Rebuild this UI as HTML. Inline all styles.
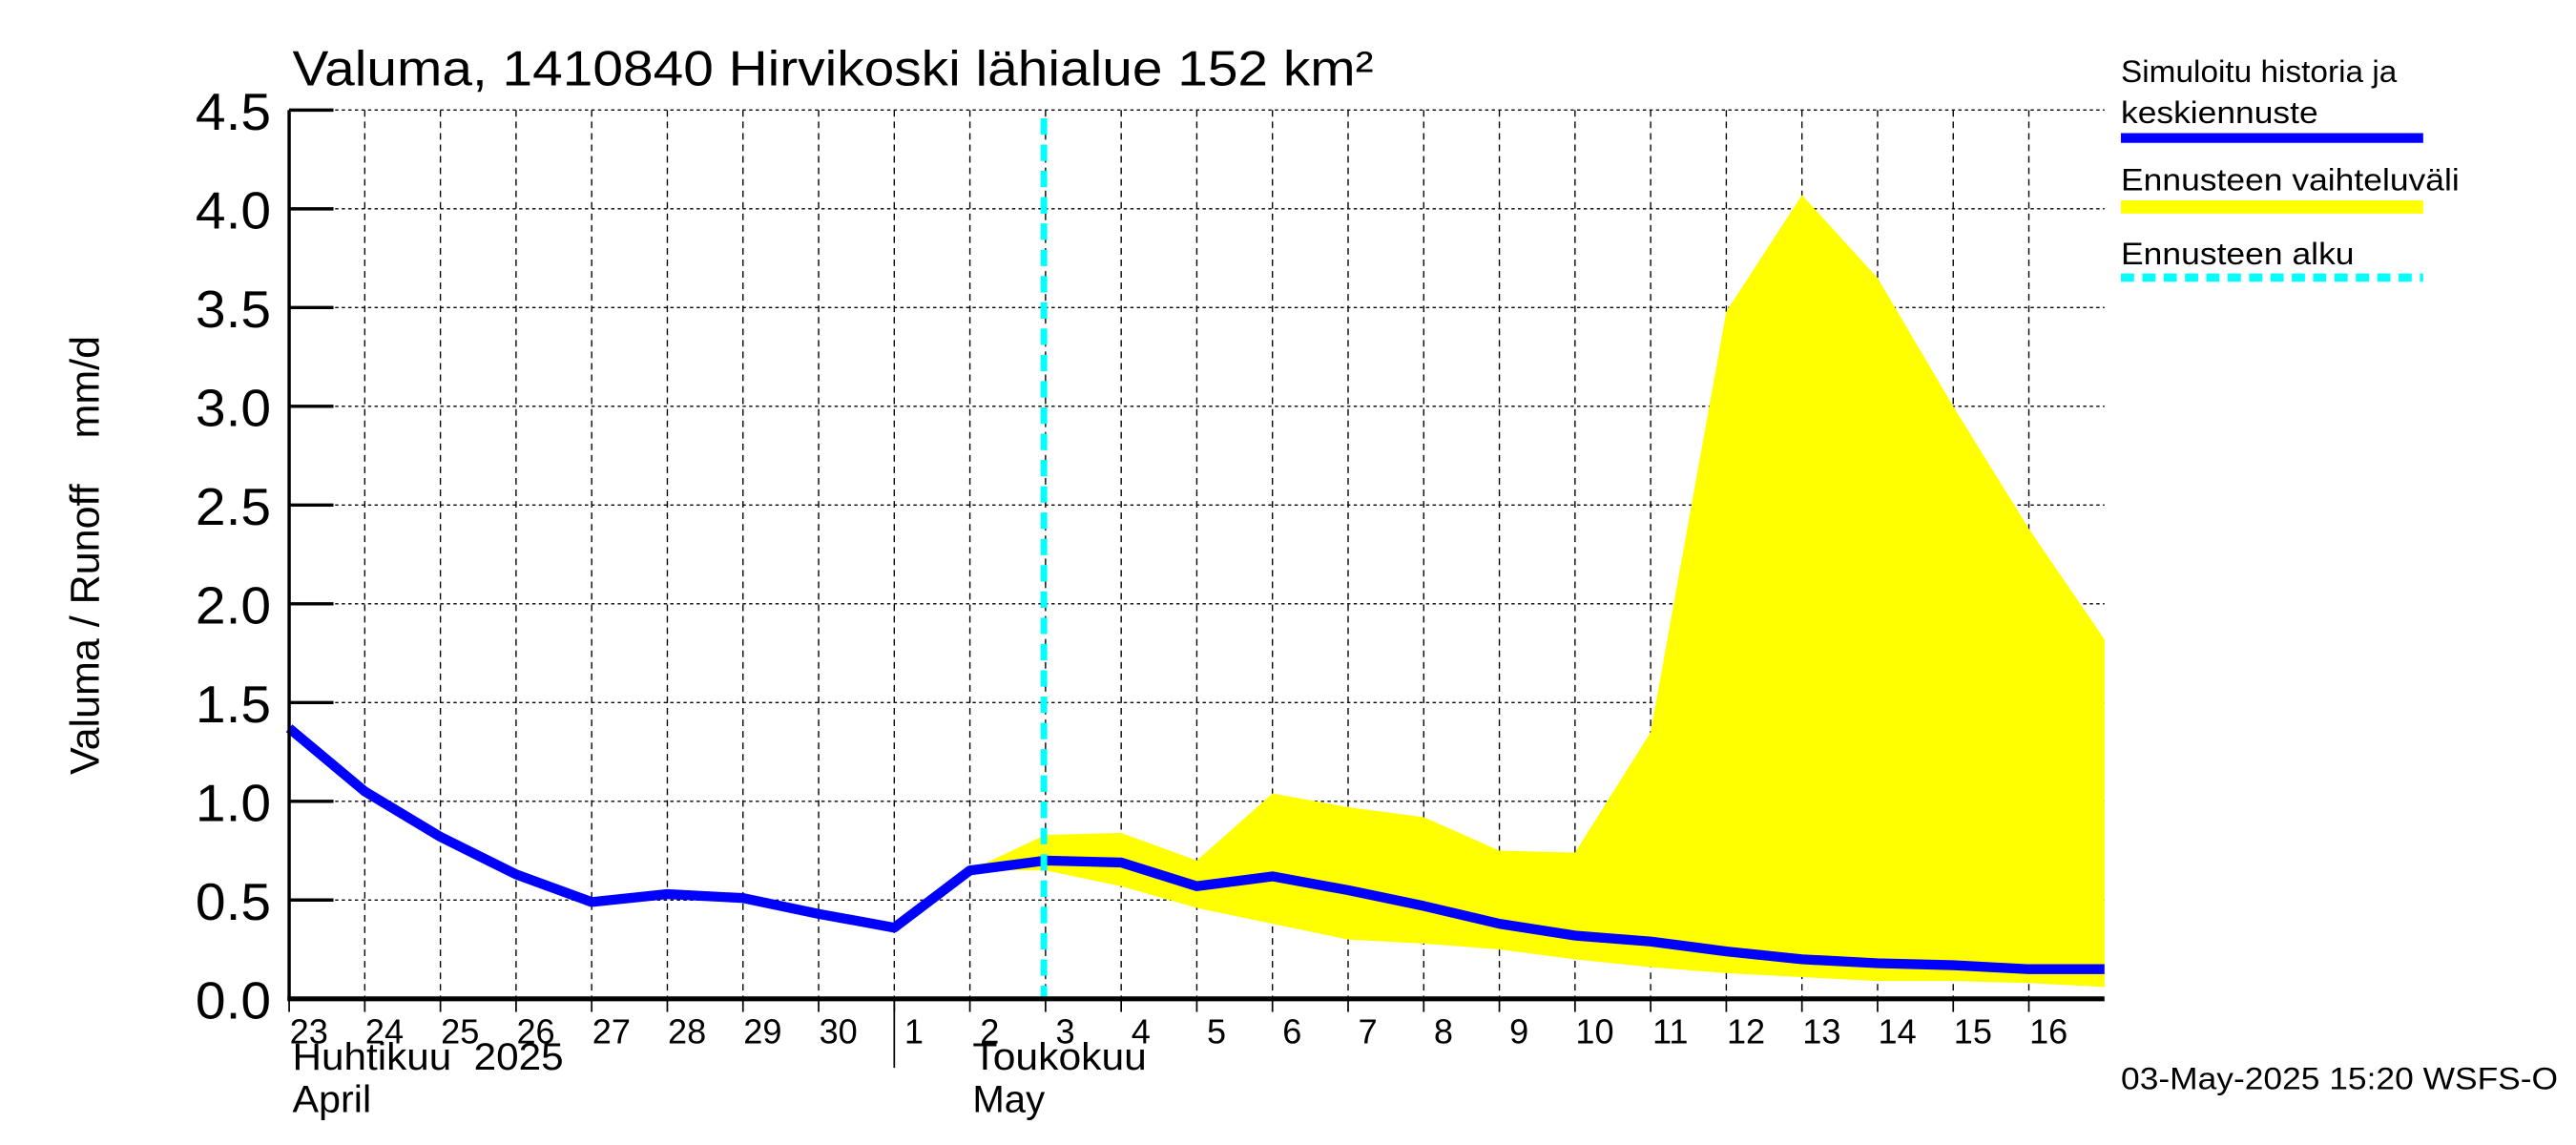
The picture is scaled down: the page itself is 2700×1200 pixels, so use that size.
<!DOCTYPE html>
<html><head><meta charset="utf-8"><style>
html,body{margin:0;padding:0;background:#fff;}
svg{display:block;font-family:"Liberation Sans",sans-serif;}
</style></head><body>
<svg id="chart" width="2700" height="1200" viewBox="0 0 1568 697" preserveAspectRatio="none" xmlns="http://www.w3.org/2000/svg">
<rect width="1568" height="697" fill="#fff"/>
<g id="grid"></g>
<g id="band"></g>
<g id="series"></g>
<g id="axes"></g>
<text x="178" y="52" font-size="30" textLength="658" lengthAdjust="spacingAndGlyphs">Valuma, 1410840 Hirvikoski lähialue 152 km²</text>
<text transform="translate(60,338) rotate(-90)" text-anchor="middle" font-size="25" xml:space="preserve">Valuma / Runoff    mm/d</text>
<g>
<text x="1291" y="50" font-size="19" textLength="168" lengthAdjust="spacingAndGlyphs">Simuloitu historia ja</text>
<text x="1291" y="75" font-size="19" textLength="120" lengthAdjust="spacingAndGlyphs">keskiennuste</text>
<line x1="1291" y1="84" x2="1475" y2="84" stroke="#0000ff" stroke-width="6"/>
<text x="1291" y="116" font-size="19" textLength="206" lengthAdjust="spacingAndGlyphs">Ennusteen vaihteluväli</text>
<line x1="1291" y1="126" x2="1475" y2="126" stroke="#ffff00" stroke-width="8"/>
<text x="1291" y="161" font-size="19" textLength="142" lengthAdjust="spacingAndGlyphs">Ennusteen alku</text>
<line x1="1291" y1="169" x2="1475" y2="169" stroke="#00ffff" stroke-width="5" stroke-dasharray="8,5"/>
</g>
<text x="1557" y="663" font-size="19" text-anchor="end" textLength="266" lengthAdjust="spacingAndGlyphs">03-May-2025 15:20 WSFS-O</text>
<text x="178" y="651" font-size="23" textLength="165" lengthAdjust="spacingAndGlyphs" xml:space="preserve">Huhtikuu  2025</text>
<text x="178" y="677" font-size="23" textLength="48" lengthAdjust="spacingAndGlyphs">April</text>
<text x="592" y="651" font-size="23" textLength="106" lengthAdjust="spacingAndGlyphs">Toukokuu</text>
<text x="592" y="677" font-size="23" textLength="44" lengthAdjust="spacingAndGlyphs">May</text>
</svg>
<script>
const dayLabels=["23","24","25","26","27","28","29","30","1","2","3","4","5","6","7","8","9","10","11","12","13","14","15","16"];
const simulated=[1.37,1.05,0.82,0.63,0.49,0.53,0.51,0.43,0.36,0.65,0.70,0.69,0.57,0.62,0.55,0.47,0.38,0.32,0.29,0.24,0.20,0.18,0.17,0.15,0.15];
const rangeStartIndex=9;
const rangeUpper=[0.65,0.83,0.84,0.70,1.04,0.97,0.92,0.75,0.74,1.35,3.48,4.07,3.65,3.0,2.38,1.82];
const rangeLower=[0.65,0.65,0.57,0.46,0.38,0.30,0.28,0.25,0.20,0.16,0.13,0.11,0.09,0.09,0.08,0.06];
const yTicks=["0.0","0.5","1.0","1.5","2.0","2.5","3.0","3.5","4.0","4.5"];
const forecastStart=10;
const NS="http://www.w3.org/2000/svg";
const X0=176,X1=1281,Y0=608,Y1=67,NDAYS=24,YMAX=4.5;
function xs(i){return X0+(X1-X0)*i/NDAYS;}
function ys(v){return Y0-(Y0-Y1)*v/YMAX;}
function mk(tag,attrs,parent){const e=document.createElementNS(NS,tag);for(const k in attrs)e.setAttribute(k,attrs[k]);parent.appendChild(e);return e;}
const grid=document.getElementById('grid'),band=document.getElementById('band'),series=document.getElementById('series'),axes=document.getElementById('axes');
yTicks.forEach((t,i)=>{const v=parseFloat(t);const y=ys(v);
 if(i>0){const l=mk('line',{x1:X0,x2:X1,y1:y,y2:y,stroke:'#000','stroke-width':0.8,'stroke-dasharray':'2,2'},grid);
 
 }
 const tk=mk('line',{x1:X0,x2:X0+27,y1:y,y2:y,stroke:'#000','stroke-width':2},axes);
 
 
 const tx=mk('text',{x:165,y:y+12,'font-size':32,'text-anchor':'end',textLength:46,lengthAdjust:'spacingAndGlyphs'},axes);
 tx.textContent=t;
 
 });
dayLabels.forEach((d,i)=>{const x=xs(i);
 if(i>0){const l=mk('line',{x1:x,x2:x,y1:Y1,y2:Y0,stroke:'#000','stroke-width':0.8,'stroke-dasharray':'4,3'},grid);
 
 }
 const tk=mk('line',{x1:x,x2:x,y1:Y0,y2:Y0+8,stroke:'#000','stroke-width':1},axes);
 
 
 const tx=mk('text',{x:x+12,y:Y0+27,'font-size':21,'text-anchor':'middle'},axes);
 tx.textContent=d;
 
 });
const sep=mk('line',{x1:xs(8),x2:xs(8),y1:Y0,y2:650,stroke:'#000','stroke-width':1},axes);


let pts=[];rangeUpper.forEach((v,i)=>pts.push(xs(rangeStartIndex+i)+','+ys(v)));
for(let i=rangeLower.length-1;i>=0;i--)pts.push(xs(rangeStartIndex+i)+','+ys(rangeLower[i]));
const poly=mk('polygon',{points:pts.join(' '),fill:'#ffff00'},band);


const line=mk('polyline',{points:simulated.map((v,i)=>xs(i)+','+ys(v)).join(' '),fill:'none',stroke:'#0000ff','stroke-width':6,'stroke-linejoin':'round'},series);


const fs=mk('line',{x1:xs(forecastStart)-1,x2:xs(forecastStart)-1,y1:72,y2:Y0,stroke:'#00ffff','stroke-width':4,'stroke-dasharray':'10,6'},series);


const ax1=mk('line',{x1:X0,x2:X0,y1:Y1,y2:Y0+1,stroke:'#000','stroke-width':2},axes);


const ax2=mk('line',{x1:X0-1,x2:X1,y1:Y0,y2:Y0,stroke:'#000','stroke-width':3},axes);


</script>
</body></html>
